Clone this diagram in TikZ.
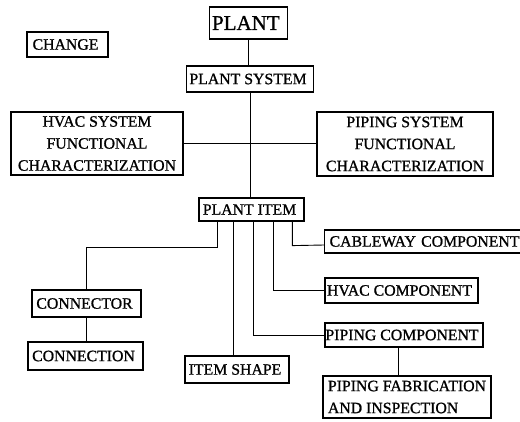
\documentclass[tikz,border=0pt]{standalone}
\usepackage{fontspec}
\setmainfont{Liberation Serif}
\newfontfamily\scanfont[FakeBold=1]{Liberation Serif}
\usetikzlibrary{calc}
\tikzset{
  entity/.style={draw, line width=1.2pt, inner sep=0pt, align=center,
    font=\scanfont\fontsize{15.8}{22}\selectfont},
  link/.style={line width=0.9pt}
}
\begin{document}
\begin{tikzpicture}[x=1pt,y=-1pt]
                    \useasboundingbox (0,0) rectangle (520,421);
                    {

                    % Marking entity CHANGE
                    \node [entity, minimum width=81, minimum height=25] (change) at (67.5,44.5) { CHANGE };%

                    % Marking entity PLANT
                    \node [entity, minimum width=78, minimum height=32, font=\scanfont\fontsize{21}{24}\selectfont] (plant) at (248.5,23) { PLANT };%

                    % Marking entity PLANT SYSTEM
                    \node [entity, minimum width=127, minimum height=26] (psys) at (250,79) { PLANT SYSTEM };%

                    % Marking entity HVAC SYSTEM
                    \node [entity, minimum width=172, minimum height=63] (hvacsys) at (97,143.5) { HVAC SYSTEM\\FUNCTIONAL\\CHARACTERIZATION };%

                    % Marking entity PIPING SYSTEM
                    \node [entity, minimum width=176, minimum height=64] (pipesys) at (405,144) { PIPING SYSTEM\\FUNCTIONAL\\CHARACTERIZATION };%

                    % Marking entity PLANT ITEM
                    \node [entity, minimum width=105, minimum height=23] (item) at (251.5,209.5) { PLANT ITEM };%

                    % Marking entity CABLEWAY COMPONENT
                    \node [entity, minimum width=210, minimum height=23, anchor=west, inner xsep=3pt, align=left, text width=200] (cable) at (324,241.5) { CABLEWAY COMPONENT };%

                    % Marking entity HVAC COMPONENT
                    \node [entity, minimum width=153, minimum height=25] (hvaccomp) at (401.5,290.5) { HVAC COMPONENT };%

                    % Marking entity PIPING COMPONENT
                    \node [entity, minimum width=158, minimum height=24] (pipecomp) at (404,335) { PIPING COMPONENT };%

                    % Marking entity PIPING FABRICATION
                    \node [entity, minimum width=168, minimum height=42, align=left, inner xsep=4pt] (pipefab) at (407,397) { PIPING FABRICATION\\AND INSPECTION };%

                    % Marking entity CONNECTOR
                    \node [entity, minimum width=109, minimum height=27] (connector) at (86.5,303.5) { CONNECTOR };%

                    % Marking entity CONNECTION
                    \node [entity, minimum width=115, minimum height=28] (connection) at (85.5,356) { CONNECTION };%

                    % Marking entity ITEM SHAPE
                    \node [entity, minimum width=104, minimum height=27] (shape) at (237,369.5) { ITEM SHAPE };%

                    % Drawing link PLANT -- PLANT SYSTEM -- PLANT ITEM
                    \draw [link] (plant.south) -- (plant.south |- psys.north);%
                    \draw [link] (psys.south) -- (psys.south |- item.north);%

                    % Drawing link HVAC SYSTEM -- PIPING SYSTEM
                    \draw [link] (hvacsys.east) -- (hvacsys.east -| pipesys.west);%

                    % Drawing links below PLANT ITEM
                    \coordinate (d1) at ($(item.south west)+(19,0)$);%
                    \coordinate (d2) at ($(item.south west)+(35,0)$);%
                    \coordinate (d3) at ($(item.south west)+(55,0)$);%
                    \coordinate (d4) at ($(item.south west)+(75,0)$);%
                    \coordinate (d5) at ($(item.south west)+(94,0)$);%
                    \draw [link] (d1) -- ++(0,26) -| (connector.north);%
                    \draw [link] (d2) -- (d2 |- shape.north);%
                    \draw [link] (d3) |- (pipecomp.west);%
                    \draw [link] (d4) |- (hvaccomp.west);%
                    \draw [link] (d5) -- ++(0,24) -- (cable.west |- 0,245);%

                    % Drawing link CONNECTOR -- CONNECTION
                    \draw [link] (connector.south) -- (connector.south |- connection.north);%

                    % Drawing link PIPING COMPONENT -- PIPING FABRICATION
                    \draw [link] ($(pipecomp.south)+(-6,0)$) -- ($(pipecomp.south |- pipefab.north)+(-6,0)$);%
                    }
\end{tikzpicture}
\end{document}
